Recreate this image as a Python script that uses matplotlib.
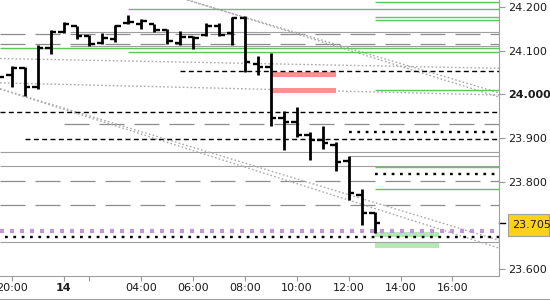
import numpy as np
import matplotlib.pyplot as plt
from matplotlib.lines import Line2D
from matplotlib.patches import Rectangle
from matplotlib.transforms import blended_transform_factory

plt.rcParams['lines.scale_dashes'] = False
plt.rcParams['font.family'] = 'DejaVu Sans'

# OHLC bars (bar index, prices)
bars = np.arange(-1, 29)
opens = [24.045, 24.045, 24.061, 24.017, 24.106, 24.143, 24.156, 24.135, 24.117, 24.127,
         24.165, 24.162, 24.161, 24.148, 24.119, 24.131, 24.136, 24.158, 24.142, 24.175,
         24.070, 24.062, 23.945, 23.936, 23.907, 23.896, 23.884, 23.847, 23.769, 23.728]
highs = [24.052, 24.065, 24.064, 24.114, 24.148, 24.166, 24.157, 24.136, 24.142, 24.159,
         24.182, 24.173, 24.162, 24.150, 24.146, 24.133, 24.165, 24.165, 24.177, 24.180,
         24.088, 24.094, 23.961, 23.972, 23.915, 23.928, 23.892, 23.859, 23.783, 23.731]
lows = [24.029, 24.018, 23.997, 24.012, 24.092, 24.140, 24.127, 24.112, 24.115, 24.121,
        24.162, 24.150, 24.144, 24.115, 24.114, 24.104, 24.134, 24.134, 24.114, 24.052,
        24.045, 23.928, 23.873, 23.903, 23.850, 23.874, 23.825, 23.758, 23.701, 23.682]
closes = [24.040, 24.061, 24.017, 24.106, 24.143, 24.161, 24.135, 24.115, 24.130, 24.156,
          24.167, 24.169, 24.148, 24.123, 24.131, 24.129, 24.158, 24.136, 24.175, 24.074,
          24.062, 23.945, 23.936, 23.907, 23.896, 23.888, 23.845, 23.774, 23.728, 23.705]

# horizontal levels: price and the bar where they start
green_levels = [24.213, 24.195, 24.177, 24.171, 24.107, 24.097, 24.010, 23.834, 23.783]
green_from = [28, 9, 28, 28, -1, 9, 28, 28, 28]
gray_levels = [24.143, 24.111, 23.867, 23.858, 23.836, 23.661]
gray_from = [4.5, 4.5, -1, 26, -1, -1]
gray_dash_levels = [24.138, 24.115, 23.932, 23.802, 23.747]
gray_dash_from = [-1, -1, 4, -1, -1]
black_dash_levels = [24.054, 23.959, 23.897]
black_dash_from = [13, -1, 1]
black_dot_levels = [23.915, 23.818, 23.674]
black_dot_from = [26, 28, -0.5]
purple_level = 23.686

# zones (price top, price bottom, bar from, bar to)
red_zones = [(24.052, 24.041), (24.016, 24.004)]
red_span = (20, 25)
green_zones = [(23.685, 23.674), (23.660, 23.649)]
green_span = (28, 33)

# trend lines: two points each (bar, price)
trend_lines = [((0, 24.082), (36, 24.061)),
               ((0, 24.026), (36, 24.000)),
               ((18, 24.177), (36, 24.018)),
               ((18, 24.176), (36, 24.009)),
               ((0, 24.004), (36, 23.663)),
               ((0, 24.005), (36, 23.680))]

xtick_pos = [0, 4, 6, 10, 14, 18, 22, 26, 30, 34]
xtick_lab = ['20:00', '14', '', '04:00', '06:00', '08:00', '10:00', '12:00', '14:00', '16:00']
ytick_pos = [23.6, 23.8, 23.9, 24.0, 24.1, 24.2]

fig = plt.figure(figsize=(5.5, 3), dpi=100)
ax = fig.add_axes([0, 24 / 300, 499 / 550, 276 / 300])
xmin, xmax = -0.903, 37.6
ax.set_xlim(xmin, xmax)
ax.set_ylim(23.5837, 24.2167)

def level(y, start, **kw):
    ax.plot([max(start, xmin), xmax], [y, y], solid_capstyle='butt', dash_capstyle='butt', **kw)

for y, s in zip(gray_levels, gray_from):
    level(y, s, color='#a0a0a0', lw=0.8, zorder=1)
for y, s in zip(gray_dash_levels, gray_dash_from):
    level(y, s, color='#8c8c8c', lw=0.9, linestyle=(0, (18, 7.2)), zorder=1)
for y, s in zip(green_levels, green_from):
    level(y, s, color='#5cc85c', lw=1.0, zorder=2)
for y, s in zip(black_dash_levels, black_dash_from):
    level(y, s, color='black', lw=1.0, linestyle=(0, (3.6, 2.4)), zorder=2)
for y, s in zip(black_dot_levels, black_dot_from):
    level(y, s, color='black', lw=1.7, linestyle=(0, (2.0, 4.0)), zorder=2)
level(purple_level, xmin, color='#c393e3', lw=3.0, linestyle=(0, (2.9, 4.3)), zorder=2)

for top, bot in red_zones:
    ax.add_patch(Rectangle((red_span[0], bot), red_span[1] - red_span[0], top - bot,
                           facecolor='#ff9090', edgecolor='none', zorder=1.5))
for top, bot in green_zones:
    ax.add_patch(Rectangle((green_span[0], bot), green_span[1] - green_span[0], top - bot,
                           facecolor='#b4e8b4', edgecolor='none', zorder=1.5))

for p1, p2 in trend_lines:
    ax.axline(p1, p2, color='#aaaaaa', lw=1.0, linestyle=(0, (1.2, 1.6)), zorder=1)

# OHLC bars
ax.vlines(bars, lows, highs, color='black', lw=2.0, zorder=5)
ax.hlines(opens, bars - 0.42, bars, color='black', lw=1.7, zorder=5)
ax.hlines(closes, bars, bars + 0.42, color='black', lw=1.7, zorder=5)

for side in ['left', 'top']:
    ax.spines[side].set_visible(False)
for side in ['right', 'bottom']:
    ax.spines[side].set_color('#a0a0a0')
    ax.spines[side].set_linewidth(0.8)

ax.yaxis.tick_right()
ax.set_yticks(ytick_pos)
ax.set_yticklabels(['%.3f' % v for v in ytick_pos])
ax.tick_params(axis='y', length=4.3, width=0.8, color='#999999', pad=2.2,
               labelsize=8, labelcolor='#1a1a1a')
for t in ax.get_yticklabels():
    if t.get_text() == '24.000':
        t.set_fontweight('bold')

ax.set_xticks(xtick_pos)
ax.set_xticklabels(xtick_lab)
ax.tick_params(axis='x', length=3.6, width=0.8, color='#999999', pad=1.5,
               labelsize=8, labelcolor='#1a1a1a')
for t in ax.get_xticklabels():
    if t.get_text() == '14':
        t.set_fontweight('bold')

# last price marker
last = closes[-1]
trans = blended_transform_factory(ax.transAxes, ax.transData)
ax.plot([1.0, 1.012], [last, last], color='black', lw=1.0, transform=trans, clip_on=False)
ax.add_patch(Rectangle((1.019, last - 0.030), 0.0802, 0.0505, transform=trans, clip_on=False,
                       facecolor='#ffd218', edgecolor='#a0a0a0', lw=0.8, zorder=6))
ax.text(1.026, last - 0.005, '%.3f' % last, transform=trans, ha='left', va='center',
        fontsize=8, color='#1a1a1a', zorder=7, clip_on=False)

fig.add_artist(Line2D([0, 1], [0.6 / 300, 0.6 / 300], transform=fig.transFigure,
                      color='#a0a0a0', lw=0.8))

fig.savefig('out.png', dpi=100)
